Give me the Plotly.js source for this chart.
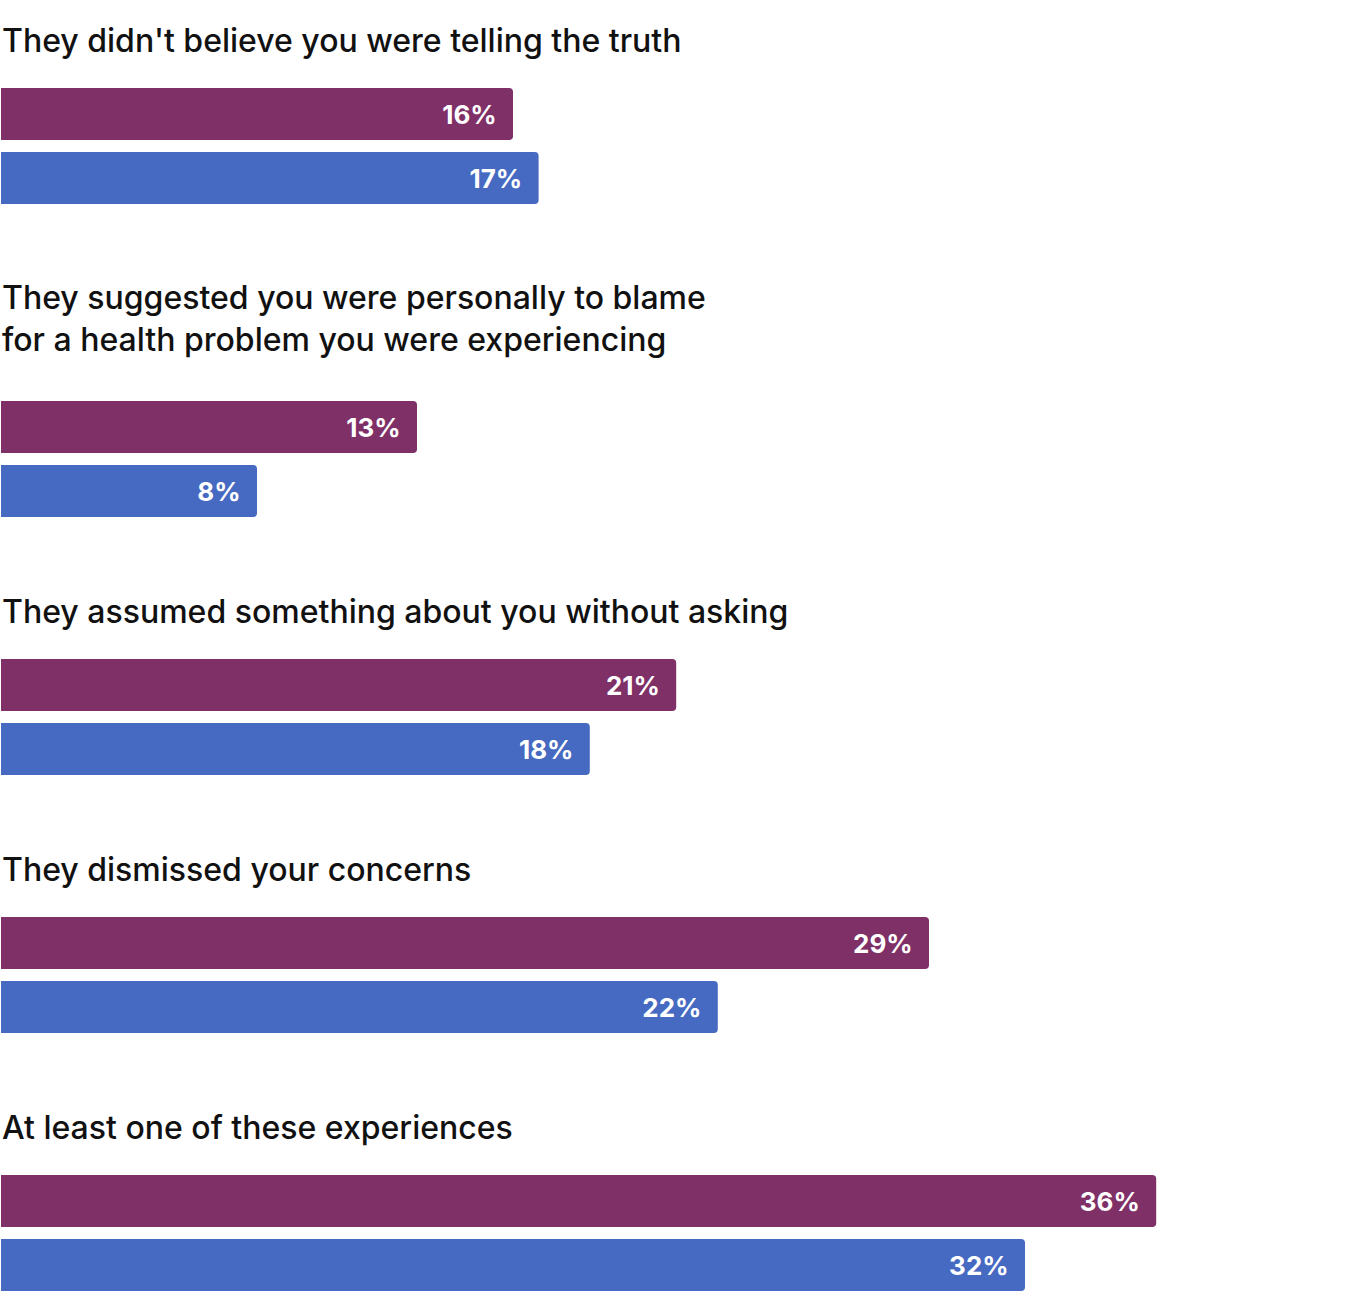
<!DOCTYPE html>
<html>
<head>
<meta charset="utf-8">
<script src="https://cdn.plot.ly/plotly-3.0.1.min.js"></script>
<style>
  html, body { margin: 0; padding: 0; background: #fff; }
  #chart { width: 1367px; height: 1293px; }
</style>
</head>
<body>
<div id="chart"></div>
<script>
// Question labels, top to bottom
const questions = [
  "They didn't believe you were telling the truth",
  'They suggested you were personally to blame<br>for a health problem you were experiencing',
  'They assumed something about you without asking',
  'They dismissed your concerns',
  'At least one of these experiences',
];

// Series values (percent)
const purpleValues = [16.0, 13.0, 21.1, 29.0, 36.1];
const blueValues = [16.8, 8.0, 18.4, 22.4, 32.0];

// Printed labels
const purpleLabels = ['16%', '13%', '21%', '29%', '36%'];
const blueLabels = ['17%', '8%', '18%', '22%', '32%'];

const purple = '#7f3067';
const blue = '#4669c1';

// Work out vertical positions (y axis is in pixels, top = 0)
const labelY = [];
const purpleY = [];
const blueY = [];
let cursor = 40;
questions.forEach((q) => {
  const extraLines = q.split('<br>').length - 1;
  labelY.push(cursor + extraLines * 20);
  const p = cursor + 74 + extraLines * 55;
  purpleY.push(p);
  blueY.push(p + 64);
  cursor = p + 64 + 120;
});

// Add a bit of room after the value text
const pad = (s) => s + '\u00a0\u00a0';

function barTrace(values, labels, ys, color) {
  return {
    type: 'bar',
    orientation: 'h',
    x: values,
    y: ys,
    width: 52,
    text: labels.map(pad),
    textposition: 'inside',
    insidetextanchor: 'end',
    constraintext: 'none',
    textfont: { family: 'Inter, sans-serif', size: 26, color: '#ffffff', weight: 700 },
    marker: { color, cornerradius: 4, line: { width: 0 } },
    hoverinfo: 'none',
  };
}

const data = [
  barTrace(purpleValues, purpleLabels, purpleY, purple),
  barTrace(blueValues, blueLabels, blueY, blue),
];

const annotations = questions.map((q, i) => ({
  text: q,
  xref: 'paper',
  x: 0,
  xanchor: 'left',
  yref: 'y',
  y: labelY[i],
  yanchor: 'middle',
  align: 'left',
  showarrow: false,
  font: { family: 'Inter, sans-serif', size: 32, color: '#111111', weight: 500 },
}));

const layout = {
  width: 1367,
  height: 1293,
  margin: { l: 0, r: 0, t: 0, b: 0, pad: 0 },
  paper_bgcolor: '#ffffff',
  plot_bgcolor: '#ffffff',
  showlegend: false,
  barmode: 'overlay',
  xaxis: {
    range: [-1 / 32, 1366 / 32],
    visible: false,
    fixedrange: true,
  },
  yaxis: {
    range: [1293, 0],
    visible: false,
    fixedrange: true,
  },
  annotations,
};

Plotly.newPlot('chart', data, layout, { staticPlot: true, displayModeBar: false });
</script>
</body>
</html>
